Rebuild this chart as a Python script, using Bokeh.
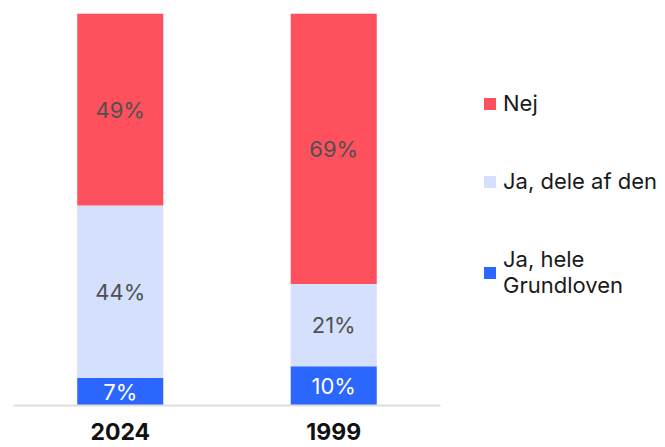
from bokeh.plotting import figure
from bokeh.models import ColumnDataSource, Range1d, Legend, LegendItem, FixedTicker
from bokeh.core.properties import value
from bokeh.embed import file_html
from bokeh.resources import INLINE

# ---- data ----
years = ["2024", "1999"]
ja_hele = [7, 10]
ja_dele = [44, 21]
nej = [49, 69]
series_names = ["Ja, hele\nGrundloven", "Ja, dele af den", "Nej"]
series_keys = ["hele", "dele", "nej"]
colors = ["#2b66ff", "#d4e0fc", "#ff505e"]
text_colors = ["#ffffff", "#505050", "#505050"]

FONT = "Inter"

x_pos = [i + 0.5 for i in range(len(years))]
src = ColumnDataSource(dict(x=x_pos, hele=ja_hele, dele=ja_dele, nej=nej))

p = figure(
    x_range=Range1d(0, 3.054),
    y_range=Range1d(-10.71, 100),
    width=665, height=447,
    output_backend="svg", toolbar_location=None,
    min_border_left=13, min_border_right=0, min_border_top=13, min_border_bottom=0,
)
p.outline_line_color = None
p.xgrid.visible = False
p.ygrid.visible = False
p.yaxis.visible = False
p.background_fill_color = None
p.border_fill_color = "white"

renderers = p.vbar_stack(series_keys, x="x", width=0.403, color=colors, source=src,
                         line_color=None)

# in-bar labels computed from the stacked data
lx, ly, lt, lc = [], [], [], []
for i, xp in enumerate(x_pos):
    base = 0
    for vals, tc in zip([ja_hele, ja_dele, nej], text_colors):
        v = vals[i]
        lx.append(xp)
        ly.append(base + v / 2)
        lt.append(f"{v}%")
        lc.append(tc)
        base += v
lsrc = ColumnDataSource(dict(x=lx, y=ly, t=lt, c=lc))
p.text(x="x", y="y", text="t", text_color="c", source=lsrc,
       text_align="center", text_baseline="middle",
       text_font=value(FONT), text_font_size="22px")

ax = p.xaxis[0]
ax.ticker = FixedTicker(ticks=x_pos)
ax.major_label_overrides = {xp: yr for xp, yr in zip(x_pos, years)}
ax.bounds = (0, len(years))
ax.fixed_location = 0
ax.axis_line_color = "#dddddd"
ax.axis_line_width = 2
ax.major_tick_line_color = None
ax.minor_tick_line_color = None
ax.major_tick_out = 0
ax.major_label_standoff = 17
ax.major_label_text_font = FONT
ax.major_label_text_font_style = "bold"
ax.major_label_text_font_size = "23px"
ax.major_label_text_color = "#111111"

items = [LegendItem(label=series_names[k], renderers=[renderers[k]]) for k in [2, 1, 0]]
legend = Legend(items=items, location=(469, 149), padding=0, margin=0,
                border_line_color=None, background_fill_alpha=0,
                glyph_width=15, glyph_height=15, label_standoff=6,
                spacing=52,
                label_text_font=FONT, label_text_font_size="22px",
                label_text_line_height=1.4,
                label_text_color="#1a1a1a")
p.add_layout(legend, "center")

open("out.html", "w").write(file_html(p, INLINE))
